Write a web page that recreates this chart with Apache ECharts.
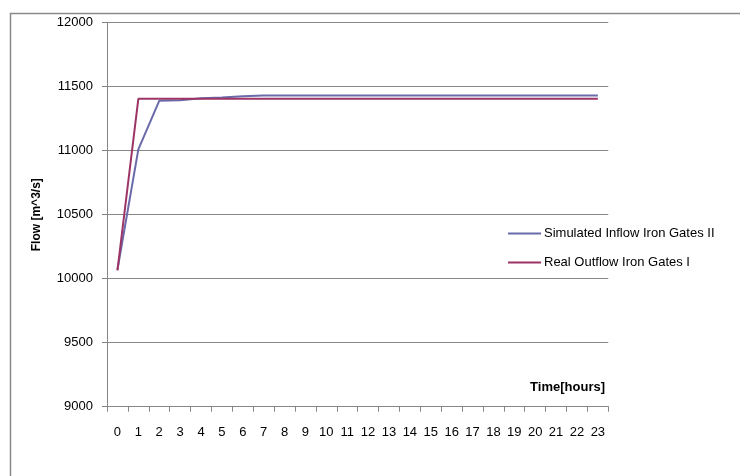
<!DOCTYPE html>
<html>
<head>
<meta charset="utf-8">
<script src="https://cdn.jsdelivr.net/npm/echarts@6/dist/echarts.min.js"></script>
<style>html,body{margin:0;padding:0;background:#fff}#c{width:740px;height:476px}</style>
</head>
<body>
<div id="c"></div>
<script>
const hours = ['0','1','2','3','4','5','6','7','8','9','10','11','12','13','14','15','16','17','18','19','20','21','22','23'];
const simulatedInflow = [10070, 11010, 11390, 11395, 11410, 11415, 11425, 11432, 11432, 11432, 11432, 11432, 11432, 11432, 11432, 11432, 11432, 11432, 11432, 11432, 11432, 11432, 11432, 11432];
const realOutflow = [10065, 11405, 11405, 11405, 11405, 11405, 11405, 11405, 11405, 11405, 11405, 11405, 11405, 11405, 11405, 11405, 11405, 11405, 11405, 11405, 11405, 11405, 11405, 11405];
const seriesNames = ['Simulated Inflow Iron Gates II', 'Real Outflow Iron Gates I'];
const yMin = 9000, yMax = 12000, yStep = 500;

const font = 'Liberation Sans, DejaVu Sans, sans-serif';
const chart = echarts.init(document.getElementById('c'), null, {renderer: 'canvas'});
chart.setOption({
  animation: false,
  backgroundColor: '#fff',
  graphic: [
    {type: 'rect', shape: {x: 10.5, y: 13.5, width: 800, height: 600}, style: {fill: 'none', stroke: '#8a8a8a', lineWidth: 1.5}, silent: true},
    {type: 'text', right: 135, top: 381, style: {text: 'Time[hours]', font: 'bold 13px ' + font, fill: '#000'}}
  ],
  grid: {left: 107, top: 22.7, right: 131.7, bottom: 69.3, containLabel: false},
  legend: {
    orient: 'vertical',
    left: 503,
    top: 222,
    itemWidth: 33,
    itemHeight: 2,
    itemGap: 16,
    icon: 'rect',
    textStyle: {fontFamily: font, fontSize: 13, color: '#000', padding: [0, 0, 0, -2]},
    data: seriesNames
  },
  xAxis: {
    type: 'category',
    data: hours,
    boundaryGap: true,
    axisLine: {lineStyle: {color: '#868686', width: 1}},
    axisTick: {show: true, length: 5, lineStyle: {color: '#868686'}, interval: 0},
    axisLabel: {interval: 0, fontFamily: font, fontSize: 13, color: '#000', margin: 19},
    splitLine: {show: false}
  },
  yAxis: {
    type: 'value',
    min: yMin, max: yMax, interval: yStep,
    name: 'Flow [m^3/s]',
    nameLocation: 'middle',
    nameGap: 64,
    nameRotate: 90,
    nameTextStyle: {fontFamily: font, fontSize: 12, fontWeight: 'bold', color: '#000'},
    axisLine: {show: true, lineStyle: {color: '#868686', width: 1}},
    axisTick: {show: true, length: 5, lineStyle: {color: '#868686'}},
    axisLabel: {fontFamily: font, fontSize: 13, color: '#000', margin: 14, formatter: v => String(v)},
    splitLine: {lineStyle: {color: '#868686', width: 1}}
  },
  series: [
    {name: seriesNames[0], type: 'line', data: simulatedInflow, symbol: 'none', lineStyle: {color: '#6a6aaa', width: 2}, itemStyle: {color: '#6a6aaa'}},
    {name: seriesNames[1], type: 'line', data: realOutflow, symbol: 'none', lineStyle: {color: '#9c3465', width: 2}, itemStyle: {color: '#9c3465'}}
  ]
});
</script>
</body>
</html>
